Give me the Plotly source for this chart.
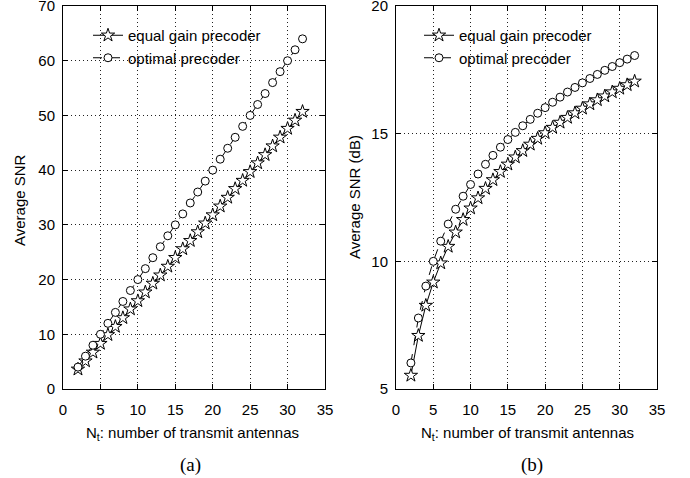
import plotly.graph_objects as go

N = list(range(2, 33))
opt_lin = [4, 6, 8, 10, 12, 14, 16, 18, 20, 22, 24, 26, 28, 30, 32, 34, 36, 38, 40,
           42, 44, 46, 48, 50, 52, 54, 56, 58, 60, 62, 64]
egt_lin = [3.6, 5.1, 6.7, 8.3, 9.9, 11.4, 13.0, 14.6, 16.1, 17.7, 19.3, 20.8, 22.4,
           24.0, 25.6, 27.1, 28.7, 30.3, 31.8, 33.4, 35.0, 36.6, 38.1, 39.7, 41.3,
           42.8, 44.4, 46.0, 47.6, 49.1, 50.7]
opt_db = [6.02, 7.78, 9.03, 10.0, 10.79, 11.46, 12.04, 12.55, 13.01, 13.42, 13.80,
          14.15, 14.47, 14.77, 15.05, 15.31, 15.56, 15.80, 16.02, 16.23, 16.43, 16.63,
          16.81, 16.99, 17.16, 17.32, 17.48, 17.63, 17.78, 17.92, 18.06]
egt_db = [5.53, 7.09, 8.27, 9.18, 9.93, 10.58, 11.14, 11.63, 12.08, 12.48, 12.85,
          13.19, 13.51, 13.80, 14.08, 14.33, 14.58, 14.81, 15.03, 15.24, 15.44, 15.63,
          15.81, 15.99, 16.16, 16.32, 16.47, 16.63, 16.77, 16.91, 17.05]

xticks = [0, 5, 10, 15, 20, 25, 30, 35]
yticks_a = [0, 10, 20, 30, 40, 50, 60, 70]
yticks_b = [5, 10, 15, 20]

FONT = "Liberation Sans, Arial, sans-serif"
FS = 15

fig = go.Figure()

def add_pair(xa, ya, opt, egt, leg):
    fig.add_trace(go.Scatter(
        x=N, y=egt, xaxis=xa, yaxis=ya, mode="lines+markers",
        name="equal gain precoder", legend=leg,
        line=dict(color="black", width=1),
        marker=dict(symbol="star", size=10, color="white",
                    line=dict(color="black", width=1))))
    fig.add_trace(go.Scatter(
        x=N, y=opt, xaxis=xa, yaxis=ya, mode="lines+markers",
        name="optimal precoder", legend=leg,
        line=dict(color="black", width=1, dash="dash"),
        marker=dict(symbol="circle", size=8, color="white",
                    line=dict(color="black", width=1))))

add_pair("x", "y", opt_lin, egt_lin, "legend")
add_pair("x2", "y2", opt_db, egt_db, "legend2")

W, H = 690, 478
def px(x): return x / W
def py(y): return 1 - y / H

axis_common = dict(
    showline=True, linecolor="black", linewidth=1, mirror="ticks",
    ticks="inside", ticklen=5, tickcolor="black",
    showgrid=True, gridcolor="#222", gridwidth=1, griddash="1px,3px",
    zeroline=False, tickfont=dict(family=FONT, size=FS, color="black"),
    ticklabeloverflow="allow", automargin=False,
)

fig.update_layout(
    width=W, height=H, margin=dict(l=0, r=0, t=0, b=0, autoexpand=False),
    plot_bgcolor="white", paper_bgcolor="white",
    xaxis=dict(domain=[px(63), px(325)], range=[0, 35], tickvals=xticks,
               anchor="y", ticklabelstandoff=7, **axis_common),
    yaxis=dict(domain=[py(389), py(6)], range=[0, 70], tickvals=yticks_a,
               anchor="x", ticklabelstandoff=4, **axis_common),
    xaxis2=dict(domain=[px(396), px(657)], range=[0, 35], tickvals=xticks,
                anchor="y2", ticklabelstandoff=7, **axis_common),
    yaxis2=dict(domain=[py(389), py(6)], range=[5, 20], tickvals=yticks_b,
                anchor="x2", ticklabelstandoff=4, **axis_common),
    legend=dict(x=px(88), y=py(19), xanchor="left", yanchor="top",
                bgcolor="rgba(0,0,0,0)", itemwidth=30, tracegroupgap=0,
                font=dict(family=FONT, size=FS, color="black")),
    legend2=dict(x=px(419), y=py(19), xanchor="left", yanchor="top",
                 bgcolor="rgba(0,0,0,0)", itemwidth=30, tracegroupgap=0,
                 font=dict(family=FONT, size=FS, color="black")),
    showlegend=True,
)

anns = [
    dict(x=px(19), y=py(200), text="Average SNR", textangle=-90),
    dict(x=px(354), y=py(197), text="Average SNR (dB)", textangle=-90),
    dict(x=px(192), y=py(433), text="N<sub>t</sub>: number of transmit antennas"),
    dict(x=px(527), y=py(433), text="N<sub>t</sub>: number of transmit antennas"),
]
for a in anns:
    fig.add_annotation(xref="paper", yref="paper", showarrow=False,
                       xanchor="center", yanchor="middle",
                       font=dict(family=FONT, size=FS, color="black"), **a)
for x, t in [(191, "(a)"), (532, "(b)")]:
    fig.add_annotation(xref="paper", yref="paper", showarrow=False,
                       x=px(x), y=py(465), xanchor="center", yanchor="middle",
                       text=t, font=dict(family="Liberation Serif, Times New Roman, serif",
                                         size=19, color="black"))

fig.write_html("out.html")
